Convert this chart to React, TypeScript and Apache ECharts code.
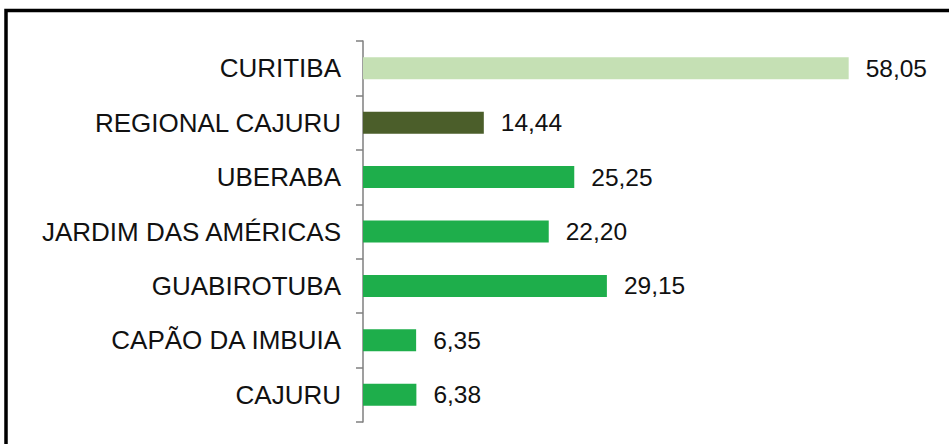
import React, { useEffect, useRef } from "react";
import * as echarts from "echarts";

const categories = [
  "CURITIBA",
  "REGIONAL CAJURU",
  "UBERABA",
  "JARDIM DAS AMÉRICAS",
  "GUABIROTUBA",
  "CAPÃO DA IMBUIA",
  "CAJURU",
];
const values = [58.05, 14.44, 25.25, 22.2, 29.15, 6.35, 6.38];
const barColors = ["#c5e0b4", "#4b5e2a", "#1eae4b", "#1eae4b", "#1eae4b", "#1eae4b", "#1eae4b"];

export default function App() {
  const ref = useRef<HTMLDivElement>(null);
  useEffect(() => {
    if (!ref.current) return;
    const chart = echarts.init(ref.current, null, { renderer: "svg" });
    chart.setOption({
      animation: false,
      backgroundColor: "#ffffff",
      graphic: [
        {
          type: "rect",
          shape: { x: 6, y: 10.5, width: 1000, height: 500 },
          style: { fill: "none", stroke: "#000000", lineWidth: 3.5 },
          z: 100,
        },
      ],
      grid: { left: 363, right: 84, top: 41, bottom: 22, containLabel: false },
      xAxis: {
        type: "value",
        min: 0,
        max: 60,
        show: false,
      },
      yAxis: {
        type: "category",
        data: categories,
        inverse: true,
        axisLine: { show: true, lineStyle: { color: "#7f7f7f", width: 1.5 } },
        axisTick: { show: true, length: 7, lineStyle: { color: "#7f7f7f", width: 1.5 } },
        axisLabel: {
          margin: 22,
          color: "#111111",
          fontSize: 26,
          fontFamily: "Liberation Sans, Arial, sans-serif",
        },
        splitLine: { show: false },
      },
      series: [
        {
          type: "bar",
          barWidth: 22,
          data: values.map((v, i) => ({ value: v, itemStyle: { color: barColors[i] } })),
          label: {
            show: true,
            position: "right",
            distance: 17,
            color: "#111111",
            fontSize: 24.5,
            fontFamily: "Liberation Sans, Arial, sans-serif",
            formatter: (p: any) => Number(p.value).toFixed(2).replace(".", ","),
          },
        },
      ],
    });
    return () => chart.dispose();
  }, []);
  return (
    <div
      ref={ref}
      style={{ position: "fixed", left: 0, top: 0, width: 949, height: 444 }}
    />
  );
}
